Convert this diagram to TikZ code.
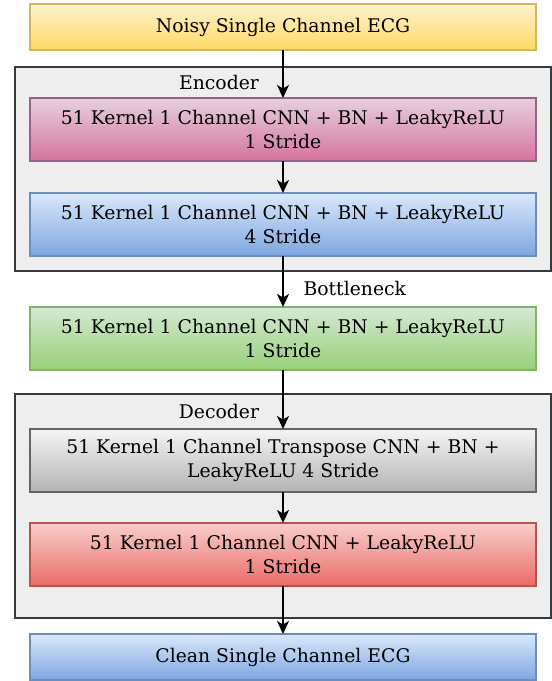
\documentclass[tikz,border=0pt]{standalone}
\usepackage{fontspec}
\setmainfont{DejaVu Serif}
\usetikzlibrary{arrows.meta}

\definecolor{ylwtop}{HTML}{FFF2CC}\definecolor{ylwbot}{HTML}{FFD966}\definecolor{ylwline}{HTML}{D6B656}
\definecolor{pnktop}{HTML}{E6D0DE}\definecolor{pnkbot}{HTML}{D5739D}\definecolor{pnkline}{HTML}{996185}
\definecolor{blutop}{HTML}{DAE8FC}\definecolor{blubot}{HTML}{7EA6E0}\definecolor{bluline}{HTML}{6C8EBF}
\definecolor{grntop}{HTML}{D5E8D4}\definecolor{grnbot}{HTML}{97D077}\definecolor{grnline}{HTML}{82B366}
\definecolor{grytop}{HTML}{F5F5F5}\definecolor{grybot}{HTML}{B3B3B3}\definecolor{gryline}{HTML}{666666}
\definecolor{redtop}{HTML}{F8CECC}\definecolor{redbot}{HTML}{EA6B66}\definecolor{redline}{HTML}{B85450}
\definecolor{grpfill}{HTML}{EEEEEE}\definecolor{grpline}{HTML}{36393D}

\begin{document}
\begin{tikzpicture}[x=1pt,y=-1pt,
  block/.style={draw, line width=1.2pt, minimum width=506pt, inner sep=0pt, outer sep=0pt,
    align=center, font=\fontsize{18.8}{24}\selectfont},
  group/.style={draw=grpline, fill=grpfill, line width=1.3pt, minimum width=536pt,
    inner sep=0pt, outer sep=0pt},
  tag/.style={font=\fontsize{18.8}{24}\selectfont},
  flow/.style={-{Stealth[length=13pt,width=12pt,inset=3.5pt]}, line width=1.5pt}]

\useasboundingbox (0,0) rectangle (552,681);

% containers
\node[group, minimum height=204pt] (enc) at (283,169) {};
\node[group, minimum height=224pt] (dec) at (283,506) {};
\node[tag] (enclbl) at (219,82) {Encoder};
\node[tag] (declbl) at (219,411) {Decoder};

% blocks
\node[block, minimum height=46pt, draw=ylwline, top color=ylwtop, bottom color=ylwbot] (noisy) at (283,27) {Noisy Single Channel ECG};
\node[block, minimum height=63pt, draw=pnkline, top color=pnktop, bottom color=pnkbot] (conv1) at (283,129.5) {51 Kernel 1 Channel CNN + BN + LeakyReLU\\1 Stride};
\node[block, minimum height=63pt, draw=bluline, top color=blutop, bottom color=blubot] (conv2) at (283,224.5) {51 Kernel 1 Channel CNN + BN + LeakyReLU\\4 Stride};
\node[block, minimum height=63pt, draw=grnline, top color=grntop, bottom color=grnbot] (neck) at (283,338.5) {51 Kernel 1 Channel CNN + BN + LeakyReLU\\1 Stride};
\node[block, minimum height=63pt, draw=gryline, top color=grytop, bottom color=grybot] (tconv) at (283,460.5) {51 Kernel 1 Channel Transpose CNN + BN +\\LeakyReLU 4 Stride};
\node[block, minimum height=63pt, draw=redline, top color=redtop, bottom color=redbot] (conv3) at (283,554.5) {51 Kernel 1 Channel CNN + LeakyReLU\\1 Stride};
\node[block, minimum height=46pt, draw=bluline, top color=blutop, bottom color=blubot] (clean) at (283,657) {Clean Single Channel ECG};

\node[tag, anchor=west] (necklbl) at (300,288) {Bottleneck};

% arrows
\draw[flow] (noisy) -- (conv1);
\draw[flow] (conv1) -- (conv2);
\draw[flow] (conv2) -- (neck);
\draw[flow] (neck) -- (tconv);
\draw[flow] (tconv) -- (conv3);
\draw[flow] (conv3) -- (clean);

\end{tikzpicture}
\end{document}
